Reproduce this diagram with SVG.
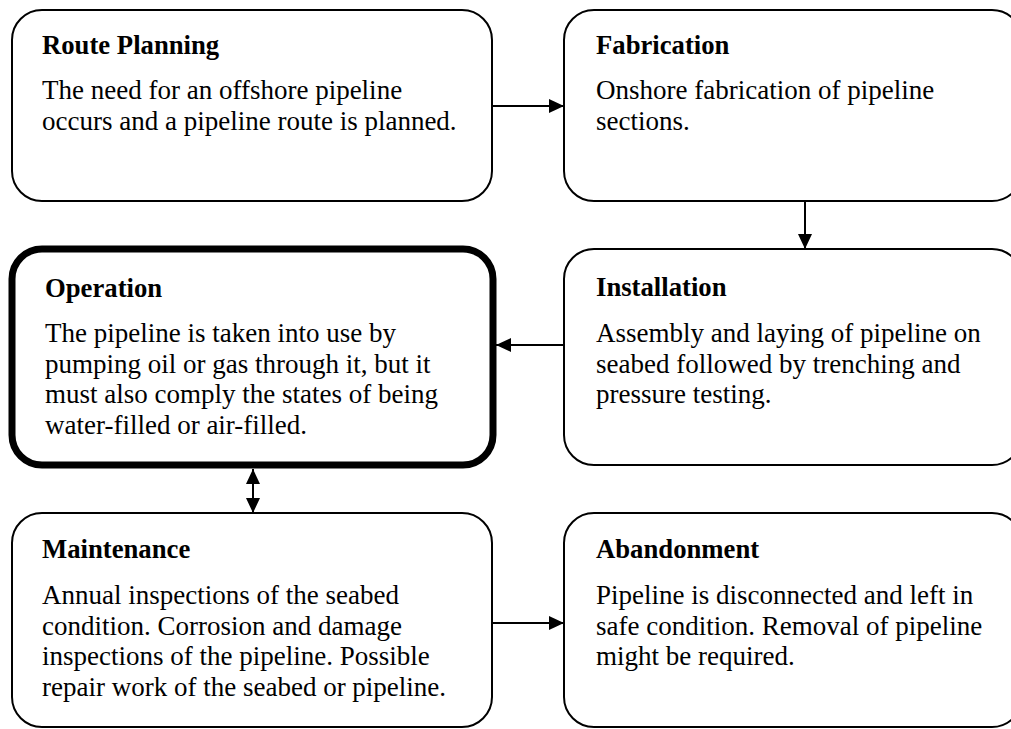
<svg xmlns="http://www.w3.org/2000/svg" width="1011" height="729" viewBox="0 0 1011 729">
<defs>
<style>
.box{fill:#fff;stroke:#000;stroke-width:2}
.thick{stroke-width:7}
.t{font-family:"Liberation Serif","Times New Roman",serif;font-size:27px;fill:#000}
.h{font-weight:bold;font-size:26.7px}
.c{stroke:#000;stroke-width:2;fill:none}
</style>
<marker id="ah" markerUnits="userSpaceOnUse" markerWidth="16" markerHeight="15" refX="15" refY="7" orient="auto-start-reverse" viewBox="0 0 16 15">
<path d="M0,0 L15,7 L0,14 Z" fill="#000"/>
</marker>
</defs>
<rect width="1011" height="729" fill="#fff"/>
<g id="connectors">
<line class="c" x1="492" y1="106" x2="564" y2="106" marker-end="url(#ah)"/>
<line class="c" x1="805" y1="201" x2="805" y2="249" marker-end="url(#ah)"/>
<line class="c" x1="564" y1="345" x2="496" y2="345" marker-end="url(#ah)"/>
<line class="c" x1="253" y1="469" x2="253" y2="513" marker-start="url(#ah)" marker-end="url(#ah)"/>
<line class="c" x1="492" y1="623" x2="564" y2="623" marker-end="url(#ah)"/>
</g>
<g id="route-planning">
<rect class="box" x="12" y="10" width="480" height="191" rx="30"/>
<text class="t h" x="42" y="54">Route Planning</text>
<text class="t" x="42" y="99">The need for an offshore pipeline</text>
<text class="t" x="42" y="129.5">occurs and a pipeline route is planned.</text>
</g>
<g id="fabrication">
<rect class="box" x="564" y="10" width="458" height="191" rx="30"/>
<text class="t h" x="596" y="54">Fabrication</text>
<text class="t" x="596" y="99">Onshore fabrication of pipeline</text>
<text class="t" x="596" y="129.5">sections.</text>
</g>
<g id="operation">
<rect class="box thick" x="12" y="249" width="481" height="216" rx="30"/>
<text class="t h" x="45" y="297">Operation</text>
<text class="t" x="45" y="342">The pipeline is taken into use by</text>
<text class="t" x="45" y="372.5">pumping oil or gas through it, but it</text>
<text class="t" x="45" y="403">must also comply the states of being</text>
<text class="t" x="45" y="433.5">water-filled or air-filled.</text>
</g>
<g id="installation">
<rect class="box" x="564" y="249" width="458" height="216" rx="30"/>
<text class="t h" x="596" y="296">Installation</text>
<text class="t" x="596" y="342">Assembly and laying of pipeline on</text>
<text class="t" x="596" y="372.5">seabed followed by trenching and</text>
<text class="t" x="596" y="403">pressure testing.</text>
</g>
<g id="maintenance">
<rect class="box" x="12" y="513" width="480" height="214" rx="30"/>
<text class="t h" x="42" y="558">Maintenance</text>
<text class="t" x="42" y="604">Annual inspections of the seabed</text>
<text class="t" x="42" y="634.5">condition. Corrosion and damage</text>
<text class="t" x="42" y="665">inspections of the pipeline. Possible</text>
<text class="t" x="42" y="695.5">repair work of the seabed or pipeline.</text>
</g>
<g id="abandonment">
<rect class="box" x="564" y="513" width="458" height="214" rx="30"/>
<text class="t h" x="596" y="558">Abandonment</text>
<text class="t" x="596" y="604">Pipeline is disconnected and left in</text>
<text class="t" x="596" y="634.5">safe condition. Removal of pipeline</text>
<text class="t" x="596" y="665">might be required.</text>
</g>
</svg>
